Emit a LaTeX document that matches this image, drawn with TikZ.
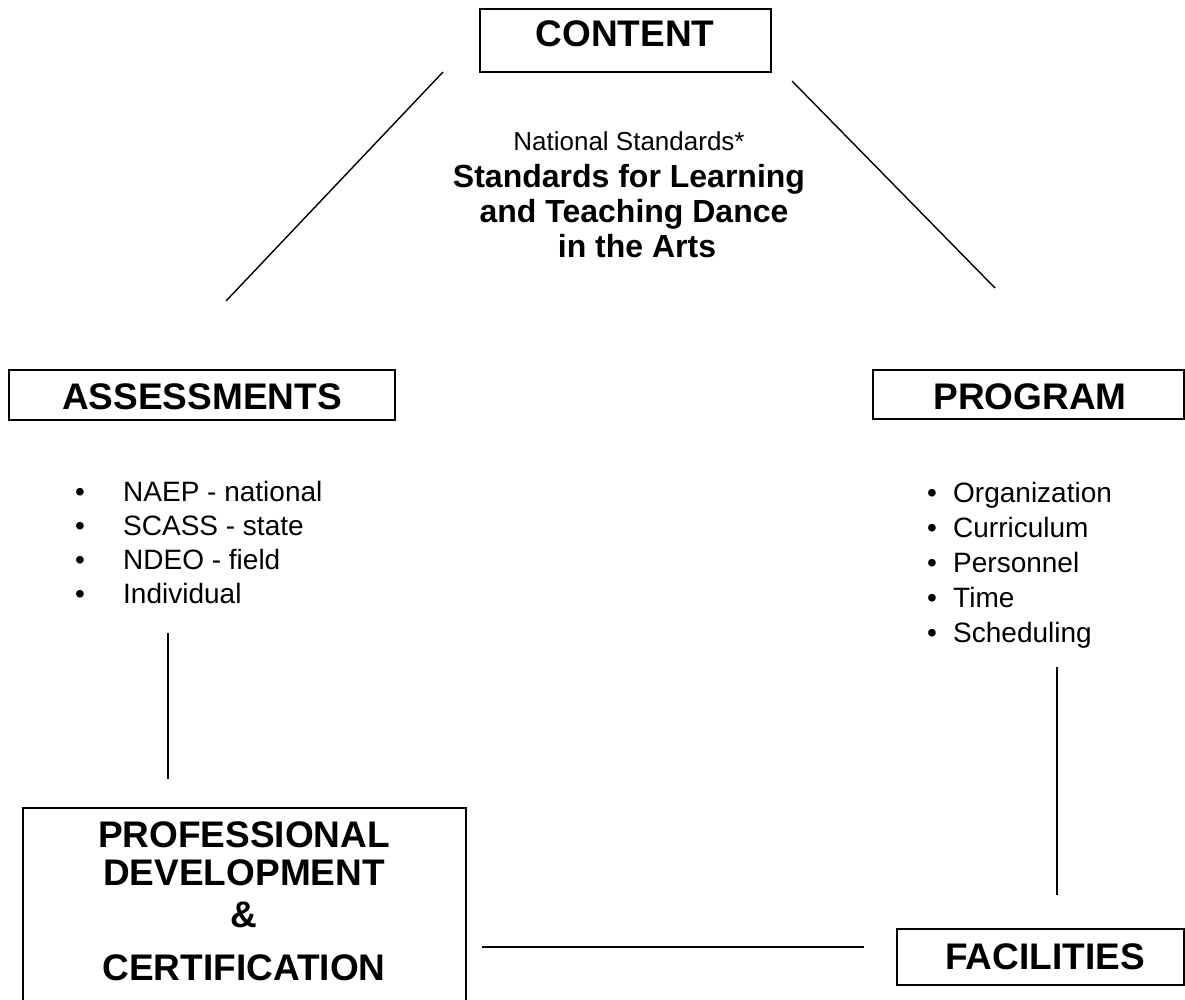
\documentclass[tikz,border=0pt]{standalone}
\usepackage{fontspec}
\setmainfont{Liberation Sans}
\begin{document}
\begin{tikzpicture}[x=1pt,y=-1pt,
  frame/.style={draw=black,line width=2pt,inner sep=0pt,outer sep=0pt},
  link/.style={draw=black,line width=1.4pt},
  head/.style={inner sep=0pt,anchor=base,font=\fontsize{37}{44}\bfseries\selectfont},
  item/.style={inner sep=0pt,anchor=base west,font=\fontsize{28}{34}\selectfont},
  dot/.style={inner sep=0pt,anchor=base,font=\fontsize{28}{34}\selectfont},
  note/.style={inner sep=0pt,anchor=base,font=\fontsize{26}{31}\selectfont},
  notebold/.style={inner sep=0pt,anchor=base,font=\fontsize{32}{38}\bfseries\selectfont}]
\useasboundingbox (0,0) rectangle (1185,1000);
\clip (0,0) rectangle (1185,1000);
\fill[white] (0,0) rectangle (1185,1000);

% frames
\draw[frame] (480,9) rectangle (771,72);
\draw[frame] (9,370) rectangle (395,420);
\draw[frame] (873,370) rectangle (1184,419);
\draw[frame] (897,929) rectangle (1184,985);
\draw[frame] (23,808) rectangle (466,1015);

% headings
\node[head] (content) at (625,47) {CONTENT};
\node[head] (assess) at (202,409) {ASSESSMENTS};
\node[head] (program) at (1030,409) {PROGRAM};
\node[head] (facil) at (1045,969) {FACILITIES};
\node[head] (pd1) at (244,847) {PROFESSIONAL};
\node[head] (pd2) at (244,885) {DEVELOPMENT};
\node[head] (pd3) at (244,927) {\&};
\node[head] (pd4) at (244,980) {CERTIFICATION};

% standards note
\node[note] (ns) at (629,151) {National Standards*};
\node[notebold] (s1) at (629,188) {Standards for Learning};
\node[notebold] (s2) at (634,223) {and Teaching Dance};
\node[notebold] (s3) at (637,258) {in the Arts};

% assessment list
\foreach \t [count=\i] in {NAEP - national, SCASS - state, NDEO - field, Individual}{
  \node[dot] (ab\i) at (80,{467+34*\i}) {•};
  \node[item] (a\i) at (123,{467+34*\i}) {\t};
}

% program list
\foreach \t [count=\i] in {Organization, Curriculum, Personnel, Time, Scheduling}{
  \node[dot] (pb\i) at (932,{467+35*\i}) {•};
  \node[item] (p\i) at (953,{467+35*\i}) {\t};
}

% connector ends
\coordinate (cl1) at (443,72);  \coordinate (cl2) at (226,301);
\coordinate (cr1) at (792,81);  \coordinate (cr2) at (995,288);
\coordinate (vl1) at (168,633); \coordinate (vl2) at (168,779);
\coordinate (vr1) at (1057,667); \coordinate (vr2) at (1057,895);
\coordinate (h1) at (482,947);  \coordinate (h2) at (864,947);

\draw[link] (cl1) -- (cl2);
\draw[link] (cr1) -- (cr2);
\draw[link] (vl1) -- (vl2);
\draw[link] (vr1) -- (vr2);
\draw[link] (h1) -- (h2);
\end{tikzpicture}
\end{document}
